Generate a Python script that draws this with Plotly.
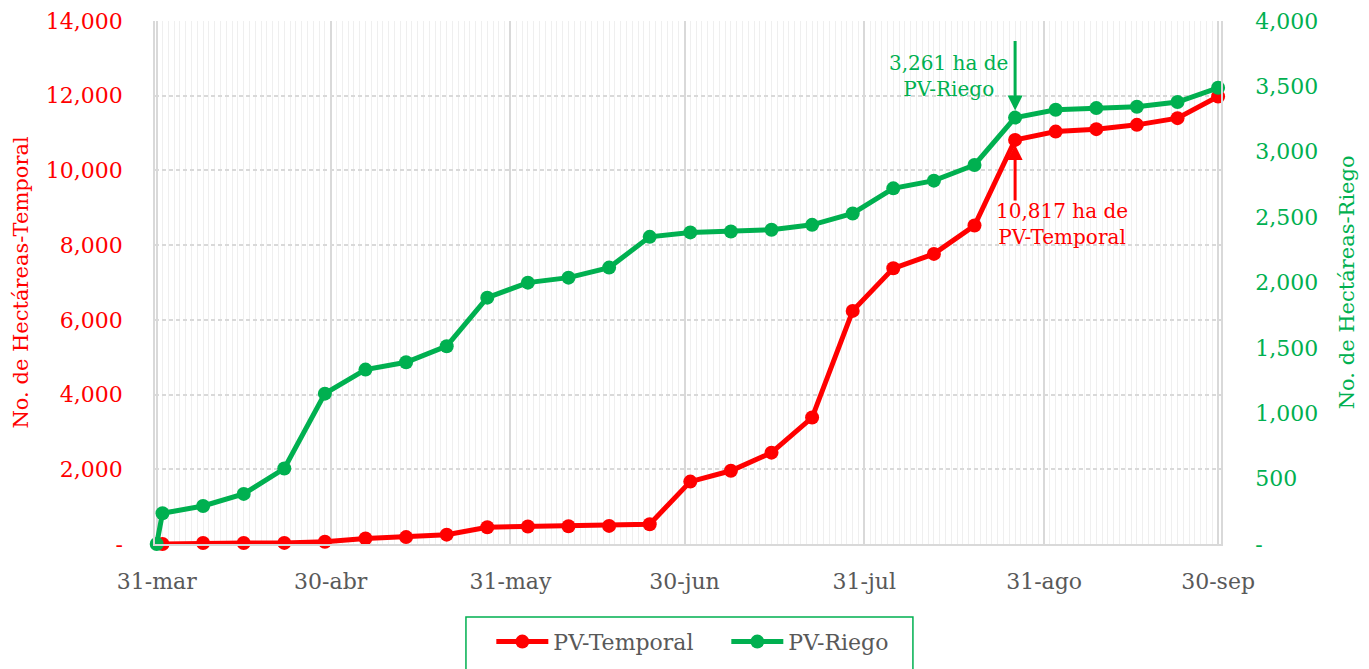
import plotly.graph_objects as go

# ---- data ----
temporal_dates = ["2021-04-01", "2021-04-08", "2021-04-15", "2021-04-22", "2021-04-29",
                  "2021-05-06", "2021-05-13", "2021-05-20", "2021-05-27", "2021-06-03",
                  "2021-06-10", "2021-06-17", "2021-06-24", "2021-07-01", "2021-07-08",
                  "2021-07-15", "2021-07-22", "2021-07-29", "2021-08-05", "2021-08-12",
                  "2021-08-19", "2021-08-26", "2021-09-02", "2021-09-09", "2021-09-16",
                  "2021-09-23", "2021-09-30"]
temporal_vals = [0, 25, 25, 30, 60, 150, 185, 250, 450, 470, 475, 485, 530, 1670, 1960,
                 2445, 3385, 6240, 7380, 7765, 8525, 10817, 11040, 11105, 11220, 11400, 11980]

riego_dates = ["2021-03-31"] + temporal_dates
riego_vals = [0, 235, 291, 383, 577, 1150, 1334, 1390, 1513, 1884, 1999, 2037, 2114, 2349,
              2383, 2390, 2403, 2441, 2528, 2720, 2779, 2899, 3261, 3321, 3334, 3344, 3380, 3489]

x_tickvals = ["2021-03-31", "2021-04-30", "2021-05-31", "2021-06-30", "2021-07-31",
              "2021-08-31", "2021-09-30"]
x_ticktext = ["31-mar", "30-abr", "31-may", "30-jun", "31-jul", "31-ago", "30-sep"]

y1_tickvals = [0, 2000, 4000, 6000, 8000, 10000, 12000, 14000]
y1_ticktext = ["-", "2,000", "4,000", "6,000", "8,000", "10,000", "12,000", "14,000"]
y2_tickvals = [0, 500, 1000, 1500, 2000, 2500, 3000, 3500, 4000]
y2_ticktext = ["-", "500", "1,000", "1,500", "2,000", "2,500", "3,000", "3,500", "4,000"]

RED = "#FF0000"
GREEN = "#00B050"
GRAY = "#595959"
FONT = "DejaVu Serif"

fig = go.Figure()
fig.add_trace(go.Scatter(x=temporal_dates, y=temporal_vals, name="PV-Temporal",
                         mode="lines+markers", yaxis="y",
                         line=dict(color=RED, width=5), marker=dict(color=RED, size=14),
                         cliponaxis=False))
fig.add_trace(go.Scatter(x=riego_dates, y=riego_vals, name="PV-Riego",
                         mode="lines+markers", yaxis="y2",
                         line=dict(color=GREEN, width=5), marker=dict(color=GREEN, size=14),
                         cliponaxis=False))

fig.update_layout(
    width=1369, height=669,
    # page body has an 8px default margin, compensated here
    margin=dict(l=147, r=156, t=13, b=133, autoexpand=False),
    paper_bgcolor="white", plot_bgcolor="white",
    font=dict(family=FONT, size=20, color=GRAY),
    showlegend=True,
    legend=dict(orientation="h", x=0.3155, xanchor="left", y=-0.187, yanchor="middle",
                font=dict(family=FONT, size=22, color=GRAY), bgcolor="rgba(0,0,0,0)",
                itemwidth=52, tracegroupgap=0, entrywidth=168, entrywidthmode="pixels"),
    xaxis=dict(
        type="date", range=["2021-03-30 17:00", "2021-09-30 12:00"],
        tickmode="array", tickvals=x_tickvals, ticktext=x_ticktext,
        tickfont=dict(family=FONT, size=22, color=GRAY),
        showgrid=True, gridcolor="#D9D9D9", gridwidth=1.5,
        minor=dict(tickmode="linear", tick0="2021-03-31", dtick=86400000,
                   showgrid=True, gridcolor="#EFEFEF", gridwidth=1),
        showline=True, linecolor="#D9D9D9", linewidth=1.5,
        ticks="", ticklabelstandoff=17, zeroline=False, automargin=False,
    ),
    yaxis=dict(
        range=[0, 14000], tickmode="array", tickvals=y1_tickvals, ticktext=y1_ticktext,
        tickfont=dict(family=FONT, size=22, color=RED),
        showgrid=True, gridcolor="#D9D9D9", gridwidth=1.5, griddash="4px,3px",
        showline=True, linecolor="#D9D9D9", linewidth=1.5,
        zeroline=False, ticks="", ticklabelstandoff=26, automargin=False,
    ),
    yaxis2=dict(
        range=[0, 4000], overlaying="y", side="right",
        tickmode="array", tickvals=y2_tickvals, ticktext=y2_ticktext,
        tickfont=dict(family=FONT, size=22, color=GREEN),
        showgrid=False, showline=True, linecolor="#D9D9D9", linewidth=1.5,
        zeroline=False, ticks="", ticklabelstandoff=28, automargin=False,
    ),
)

# axis titles
fig.add_annotation(text="No. de Hectáreas-Temporal", xref="paper", yref="paper",
                   x=-0.1266, y=0.5, xanchor="center", yanchor="middle", textangle=-90,
                   showarrow=False, font=dict(family=FONT, size=21, color=RED))
fig.add_annotation(text="No. de Hectáreas-Riego", xref="paper", yref="paper",
                   x=1.118, y=0.5, xanchor="center", yanchor="middle", textangle=-90,
                   showarrow=False, font=dict(family=FONT, size=21, color=GREEN))

# callouts
fig.add_annotation(x="2021-08-26", y=3261, xref="x", yref="y2", text="",
                   showarrow=True, arrowhead=2, arrowsize=1, arrowwidth=3,
                   arrowcolor=GREEN, ax=0, ay=-78, standoff=7)
fig.add_annotation(x="2021-08-26", y=3261, xref="x", yref="y2",
                   text="3,261 ha de<br>PV-Riego", showarrow=False,
                   xshift=-67, yshift=42, align="center",
                   font=dict(family=FONT, size=20, color=GREEN))
fig.add_annotation(x="2021-08-26", y=10817, xref="x", yref="y", text="",
                   showarrow=True, arrowhead=2, arrowsize=1, arrowwidth=3,
                   arrowcolor=RED, ax=0, ay=62, standoff=5)
fig.add_annotation(x="2021-08-26", y=10817, xref="x", yref="y",
                   text="10,817 ha de<br>PV-Temporal", showarrow=False,
                   xshift=47, yshift=-84, align="center",
                   font=dict(family=FONT, size=20, color=RED))

# legend frame
fig.add_shape(type="rect", xref="paper", yref="paper",
              x0=0.2917, x1=0.711, y0=-0.1396, y1=-0.30,
              line=dict(color=GREEN, width=1.5), fillcolor="rgba(0,0,0,0)")

fig.write_html("out.html")
